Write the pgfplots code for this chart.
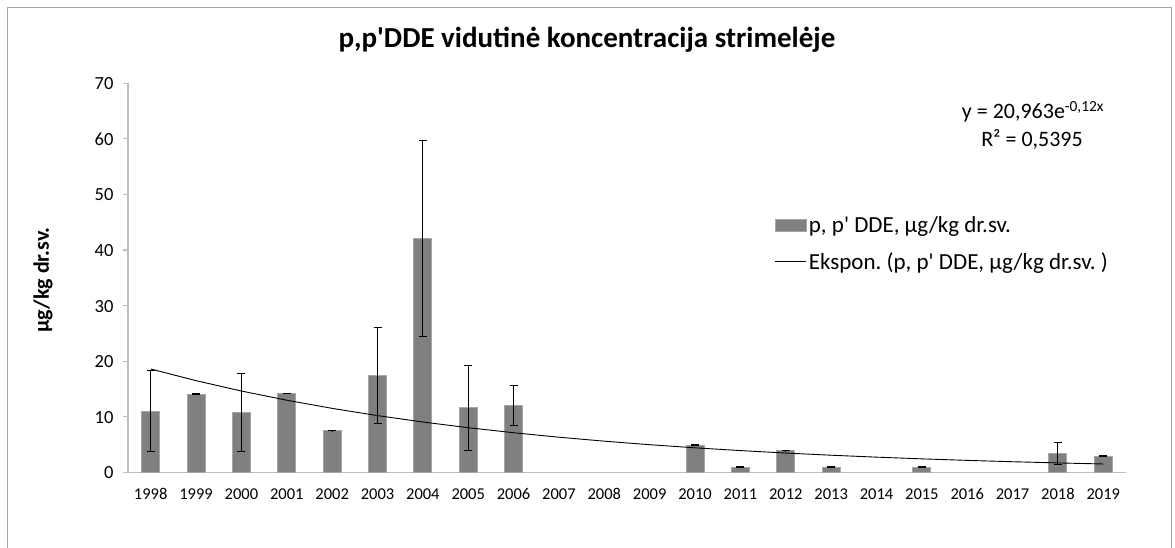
\documentclass[border=0pt]{standalone}
\usepackage{pgfplots}
\pgfplotsset{compat=1.18}
\usepackage{fontspec}
\setmainfont{Carlito}
\frenchspacing
\definecolor{bargray}{HTML}{808080}
\definecolor{bardraw}{HTML}{A6A6A6}
\definecolor{axgray}{HTML}{BFBFBF}
\pgfplotstableread{
x y e
1 11.0 7.3
2 14.05 0.06
3 10.75 7.0
4 14.2 0.06
5 7.5 0.05
6 17.4 8.7
7 42.1 17.6
8 11.6 7.7
9 12.0 3.65
13 4.9 0.04
14 0.95 0.05
15 3.9 0.05
16 0.95 0.05
18 0.95 0.05
21 3.45 2.0
22 2.9 0.05
}\datatable
\begin{document}
\begin{tikzpicture}[x=1pt,y=1pt]
\path[use as bounding box] (0,0) rectangle (1175,548);
\draw[gray!70, line width=1pt] (7.5,0) -- (7.5,540.5) -- (1171,540.5) -- (1171,0);
\begin{axis}[
  scale only axis, width=998pt, height=389pt,
  at={(128pt,75.7pt)}, anchor=south west,
  xmin=0.5, xmax=22.5, ymin=0, ymax=70,
  xtick={1,...,22},
  xticklabels={1998,1999,2000,2001,2002,2003,2004,2005,2006,2007,2008,2009,2010,2011,2012,2013,2014,2015,2016,2017,2018,2019},
  ytick={0,10,...,70},
  axis x line*=bottom, axis y line*=left,
  axis line style={axgray, line width=1.2pt, -},
  xtick style={draw=none}, ytick style={axgray, line width=1.2pt},
  tick align=outside, major tick length=5pt,
  /pgf/number format/assume math mode=true,
  xticklabel style={font=\fontsize{16.5}{19}\selectfont, text height=12pt, text depth=0pt, yshift=-7pt},
  yticklabel style={font=\fontsize{18.5}{21}\selectfont, text height=13pt, text depth=0pt, xshift=-6pt},
  legend style={at={(rel axis cs:0.648,0.662)}, anchor=north west, draw=none, fill=none,
    font=\fontsize{23}{27}\selectfont, row sep=14pt, inner sep=0pt,
    nodes={inner sep=2pt}},
  legend cell align=left,
  clip=false,
]
\addplot[ybar, bar width=18pt, bar shift=0pt, fill=bargray, draw=bardraw, line width=1pt,
  legend image code/.code={\fill[bargray, draw=bardraw, line width=1pt] (0pt,-6pt) rectangle (31pt,6pt);},
  error bars/.cd, y dir=both, y explicit,
  error bar style={black, line width=1pt},
  error mark options={rotate=90, mark size=4pt, black, line width=1pt}]
  table[x=x, y=y, y error=e] {\datatable};
\addlegendentry{p, p\textquotesingle{} DDE, µg/kg dr.sv.}
\addplot[black, line width=0.9pt,
  legend image code/.code={\draw[black, line width=0.9pt] (0pt,0pt) -- (31pt,0pt);}] coordinates {
(1,18.593) (2,16.490) (3,14.625) (4,12.971) (5,11.505) (6,10.204) (7,9.050) (8,8.027)
(9,7.119) (10,6.314) (11,5.600) (12,4.967) (13,4.405) (14,3.907) (15,3.465) (16,3.073)
(17,2.726) (18,2.418) (19,2.144) (20,1.902) (21,1.687) (22,1.496)};
\addlegendentry{Ekspon. (p, p\textquotesingle{} DDE, µg/kg dr.sv. )}
\end{axis}
\node[font=\bfseries\fontsize{29}{34}\selectfont] at (587,508) {p,p\textquotesingle DDE vidutinė koncentracija strimelėje};
\node[rotate=90, font=\bfseries\fontsize{22}{26}\selectfont] at (43,268) {µg/kg dr.sv.};
\node[font=\fontsize{22}{26}\selectfont] at (1033,436) {y = 20,963e\textsuperscript{-0,12x}};
\node[font=\fontsize{22}{26}\selectfont] at (1032,409) {R² = 0,5395};
\end{tikzpicture}
\end{document}
